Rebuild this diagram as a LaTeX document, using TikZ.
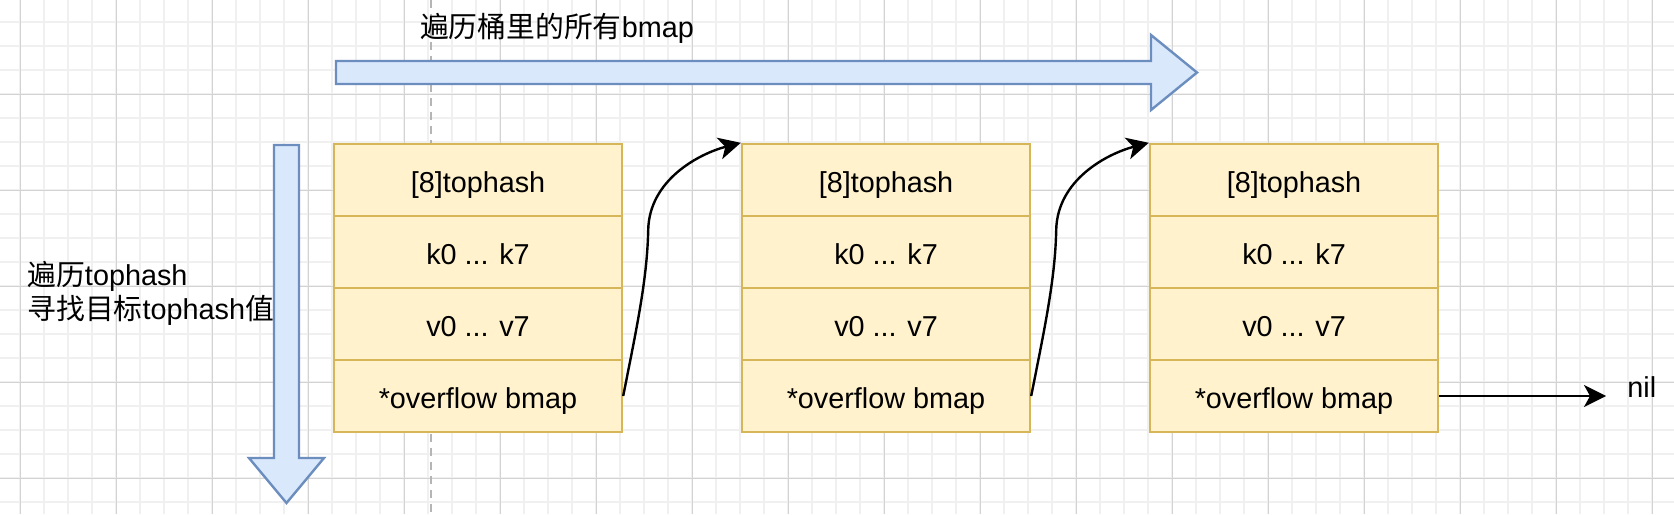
\documentclass[tikz,border=0pt]{standalone}
\usepackage{fontspec}
\setmainfont{Liberation Sans}
\newfontfamily\cjk{Noto Sans CJK SC}
\usetikzlibrary{arrows.meta,calc}
\definecolor{bfill}{HTML}{DAE8FC}
\definecolor{bline}{HTML}{6C8EBF}
\definecolor{yfill}{HTML}{FFF2CC}
\definecolor{yline}{HTML}{D6B656}
\definecolor{gminor}{HTML}{F0F0F0}
\definecolor{gmajor}{HTML}{D3D3D3}
\definecolor{guide}{HTML}{B5B5B5}
\tikzset{
  cell/.style={draw=yline, fill=yfill, line width=1.2pt, minimum width=144pt, minimum height=36pt, inner sep=0pt, text height=14pt, text depth=2pt, font=\fontsize{14.4pt}{17pt}\selectfont},
  bigarrow/.style={draw=bline, fill=bfill, line width=1.2pt, line join=miter},
  conn/.style={draw=black, line width=1.2pt, -{Stealth[length=11pt,width=11pt,inset=3pt]}},
  lbl/.style={inner sep=0pt, font=\fontsize{14.4pt}{17pt}\selectfont},
  minorline/.style={draw=gminor, line width=0.6pt},
  majorline/.style={draw=gmajor, line width=0.5pt},
}
\begin{document}
\begin{tikzpicture}[x=0.5pt,y=-0.5pt]
\useasboundingbox (0,0) rectangle (1674,514);
\fill[white] (0,0) rectangle (1674,514);
% grid
\foreach \x in {20,44,...,1674} \draw[minorline] (\x,0) -- (\x,514);
\foreach \y in {22,46,...,514} \draw[minorline] (0,\y) -- (1674,\y);
\foreach \x in {20,116,...,1674} \draw[majorline] (\x,0) -- (\x,514);
\foreach \y in {94,190,...,514} \draw[majorline] (0,\y) -- (1674,\y);
% guide
\draw[guide, line width=1pt, dash pattern=on 4pt off 3pt] (431,0) -- (431,514);
% big arrows
\draw[bigarrow] (336,61) -- (1151,61) -- (1151,35) -- (1197,72.5) -- (1151,110) -- (1151,84) -- (336,84) -- cycle;
\draw[bigarrow] (274,145) -- (299,145) -- (299,458) -- (324,458) -- (286.5,503) -- (249,458) -- (274,458) -- cycle;
% texts
\node[lbl] (top) at (557,28) {{\cjk 遍历桶里的所有}bmap};
\node[lbl, anchor=west, align=left] (left) at (27,293) {{\cjk 遍历}tophash\\{\cjk 寻找目标}tophash{\cjk 值}};
% boxes
\foreach \k/\cx in {1/478,2/886,3/1294} {
  \node[cell] (b\k r1) at (\cx,180) {[8]tophash};
  \node[cell] (b\k r2) at (\cx,252) {k0 ... k7};
  \node[cell] (b\k r3) at (\cx,324) {v0 ... v7};
  \node[cell] (b\k r4) at (\cx,396) {*overflow bmap};
}
% connectors
\coordinate (m1) at ($(b1r4.east)+(25,-166)$);
\coordinate (m2) at ($(b2r4.east)+(25,-166)$);
\draw[conn] (b1r4.east) .. controls +(13,-66) and +(-1,50) .. (m1) .. controls +(1,-50) and +(-42,11) .. (b2r1.north west);
\draw[conn] (b2r4.east) .. controls +(13,-66) and +(-1,50) .. (m2) .. controls +(1,-50) and +(-42,11) .. (b3r1.north west);
\node[lbl, anchor=west] (nil) at (1627,387) {nil};
\coordinate (nilend) at (1606,396);
\draw[conn] (b3r4.east) -- (nilend);
\end{tikzpicture}
\end{document}
